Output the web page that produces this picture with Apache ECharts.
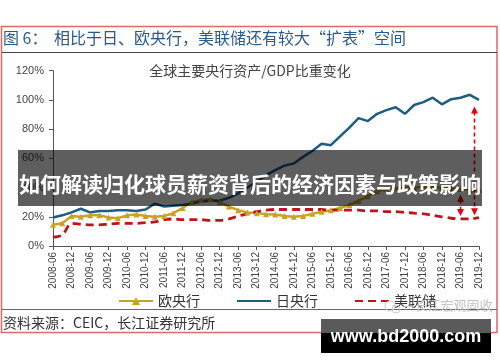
<!DOCTYPE html>
<html><head><meta charset="utf-8">
<script src="https://cdn.jsdelivr.net/npm/echarts@6/dist/echarts.min.js"></script>
<style>html,body{margin:0;padding:0;background:#fff;}#c{width:500px;height:362px;}</style>
</head><body><div id="c"></div>
<script>
const categories = ['2008-06','2008-09','2008-12','2009-03','2009-06','2009-09','2009-12','2010-03','2010-06','2010-09','2010-12','2011-03','2011-06','2011-09','2011-12','2012-03','2012-06','2012-09','2012-12','2013-03','2013-06','2013-09','2013-12','2014-03','2014-06','2014-09','2014-12','2015-03','2015-06','2015-09','2015-12','2016-03','2016-06','2016-09','2016-12','2017-03','2017-06','2017-09','2017-12','2018-03','2018-06','2018-09','2018-12','2019-03','2019-06','2019-09','2019-12'];
const ecb = [14.5,15.5,20.5,20,21,21,19.5,19,21,21.5,20.5,20,20.5,22.5,26,30,31.5,32,30,27,24.5,23,22.5,21.8,21.5,20.5,20,20.5,22,23.5,24.5,26,28,31,34,37.5,39,39.5,40,40,40.5,40,40,39.5,39,38.5,38.5];
const boj = [19.5,21,23,25.5,23,24,24,24.5,24.5,24,25,29,27,27.5,28,29,30.5,31,31,33,36,40,44,48.5,52,55,56.5,61,65,70,69,75,81,87.5,85.5,90.5,93,95,90.5,96.5,98.5,101.5,97,100.5,101.5,103.5,100];
const fed = [6,7.5,15.5,15,14.5,14.5,15,15.5,15.5,15.5,16,16.5,18,18.5,18,18,18,17.5,17.5,18.5,20.5,22,23.5,24.5,25,25,25,25,25,25,24.5,24.5,24.5,24.5,24,24,23.5,23.5,23,22.5,22,21,20,19,18.5,18.5,19.5];
const seriesNames = ['欧央行','日央行','美联储'];
const yTicks = [0,20,40,60,80,100,120];
// annotation arrows (x as category index, y values in %)
const arrowX = [44, 45.5];
const arrowTop = [35, 95.5];
const arrowBottom = [20.5, 21];

const cjk = '"Noto Sans CJK SC", "Noto Sans", sans-serif';
const lat = '"Liberation Sans", Arial, sans-serif';
const chart = echarts.init(document.getElementById('c'), null, {renderer:'canvas'});
const option = {
  backgroundColor:'#fff',
  animation:false,
  title:{text:'全球主要央行资产/GDP比重变化', left:'center', top:59, textStyle:{fontSize:14, fontWeight:'normal', color:'#444', fontFamily:cjk}},
  grid:{left:53, right:21, top:70.7, bottom:116, containLabel:false},
  legend:{data:[
      {name:seriesNames[0]},
      {name:seriesNames[1], itemStyle:{opacity:0}},
      {name:seriesNames[2], itemStyle:{opacity:0}}],
    left:113, top:289, itemWidth:34, itemHeight:10, itemGap:36,
    textStyle:{fontSize:14, color:'#333', fontFamily:cjk}},
  xAxis:{type:'category', data:categories, boundaryGap:false,
    axisLine:{lineStyle:{color:'#555'}},
    axisTick:{interval:1, length:4, lineStyle:{color:'#555'}},
    axisLabel:{interval:1, rotate:90, fontSize:10, color:'#444', fontFamily:lat, margin:6}},
  yAxis:{type:'value', min:yTicks[0], max:yTicks[yTicks.length-1], interval:20,
    splitLine:{show:false},
    axisLine:{show:true, lineStyle:{color:'#555'}},
    axisTick:{show:true, length:4, lineStyle:{color:'#555'}},
    axisLabel:{formatter:'{value}%', fontSize:11, color:'#444', fontFamily:lat, margin:9}},
  series:[
    {name:seriesNames[0], type:'line', data:ecb, symbol:'triangle', symbolSize:6, showSymbol:true,
      itemStyle:{color:'#c9a227'}, lineStyle:{width:2.5, color:'#c9a227'}},
    {name:seriesNames[1], type:'line', data:boj, symbol:'none',
      itemStyle:{color:'#1e5d82'}, lineStyle:{width:2.5, color:'#1e5d82'}},
    {name:seriesNames[2], type:'line', data:fed, symbol:'none', smooth:0.3,
      itemStyle:{color:'#c0141c'}, lineStyle:{width:2.8, color:'#c0141c', type:[8,5]}}
  ]
};
chart.setOption(option);

function px(xi, v){
  const a = Math.floor(xi), b = Math.ceil(xi);
  const pa = chart.convertToPixel({xAxisIndex:0,yAxisIndex:0},[a,v]);
  const pb = chart.convertToPixel({xAxisIndex:0,yAxisIndex:0},[b,v]);
  const t = xi - a;
  return [pa[0]+(pb[0]-pa[0])*t, pa[1]];
}
const g = [];
// arrows
for (let i=0;i<arrowX.length;i++){
  const t = px(arrowX[i], arrowTop[i]);
  const b = px(arrowX[i], arrowBottom[i]);
  const x = Math.round(t[0])+0.5;
  g.push({type:'line', z:50, shape:{x1:x,y1:t[1]+5,x2:x,y2:b[1]-5}, style:{stroke:'#e60012', lineWidth:1.6, lineDash:[4,3]}});
  g.push({type:'polygon', z:50, shape:{points:[[x,t[1]],[x-3.5,t[1]+7],[x+3.5,t[1]+7]]}, style:{fill:'#e60012'}});
  g.push({type:'polygon', z:50, shape:{points:[[x,b[1]],[x-3.5,b[1]-7],[x+3.5,b[1]-7]]}, style:{fill:'#e60012'}});
}
// frame and header/footer
g.push({type:'rect', z:60, shape:{x:1.5,y:26.5,width:495.5,height:306}, style:{fill:'none', stroke:'#e06a6a', lineWidth:1.5}});
g.push({type:'line', z:60, shape:{x1:2,y1:52.5,x2:497,y2:52.5}, style:{stroke:'#444', lineWidth:1}});
g.push({type:'line', z:60, shape:{x1:2,y1:309.5,x2:497,y2:309.5}, style:{stroke:'#666', lineWidth:1}});
g.push({type:'text', z:60, left:3, top:30, style:{text:'图 6：', fontSize:16, fill:'#2a5a8c', fontFamily:cjk}});
g.push({type:'text', z:60, left:54, top:30, style:{text:'相比于日、欧央行，美联储还有较大“扩表”空间', fontSize:16, fill:'#2a5a8c', fontFamily:cjk}});
g.push({type:'text', z:60, left:3, top:316, style:{text:'资料来源：CEIC，长江证券研究所', fontSize:14, fill:'#333', fontFamily:cjk}});
g.push({type:'circle', z:60, shape:{cx:390,cy:306,r:5}, style:{fill:'none', stroke:'#ccc', lineWidth:1}});
g.push({type:'circle', z:60, shape:{cx:396,cy:309,r:4}, style:{fill:'none', stroke:'#ccc', lineWidth:1}});
g.push({type:'text', z:60, left:403, top:299, style:{text:'—长江宏观固收', fontSize:13, fill:'#c4c4c4', fontFamily:cjk}});
// overlay band
g.push({type:'rect', z:100, shape:{x:18,y:150,width:464,height:56}, style:{fill:'rgba(0,0,0,0.63)'}});
g.push({type:'text', z:101, x:250, y:184, style:{text:'如何解读归化球员薪资背后的经济因素与政策影响', fontSize:21, fontWeight:'bold', fill:'#fff', fontFamily:cjk, align:'center', verticalAlign:'middle'}});
// watermark box
g.push({type:'rect', z:100, shape:{x:321,y:319,width:170,height:14}, style:{fill:'#5a5a5a'}});
g.push({type:'rect', z:100, shape:{x:321,y:333,width:170,height:20}, style:{fill:'#000'}});
g.push({type:'text', z:101, x:406, y:337, style:{text:'www.bd2000.com', fontSize:18, fontWeight:'bold', fill:'#fff', fontFamily:lat, align:'center', verticalAlign:'middle'}});
chart.setOption({graphic:g});
</script></body></html>
